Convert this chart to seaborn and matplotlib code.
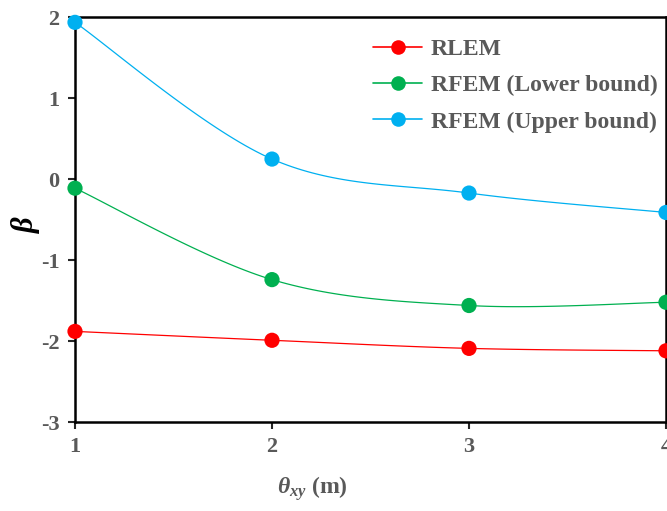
import numpy as np
import pandas as pd
import matplotlib
matplotlib.use("Agg")
import matplotlib.pyplot as plt
from matplotlib.lines import Line2D
import seaborn as sns

'''DATA'''
theta = [1, 2, 3, 4]
rlem = [-1.88, -1.99, -2.09, -2.12]
rfem_lower = [-0.11, -1.24, -1.56, -1.52]
rfem_upper = [1.94, 0.25, -0.17, -0.41]
labels = ["RLEM", "RFEM (Lower bound)", "RFEM (Upper bound)"]
colors = ["#FF0000", "#00B050", "#00B0F0"]

#Excel-style smoothed line (Catmull-Rom bezier)
def smooth(x, y, n=40):
    p = np.column_stack([x, y]).astype(float)
    pts = np.vstack([p[0], p, p[-1]])
    out = []
    for i in range(1, len(pts) - 2):
        p0, p1, p2, p3 = pts[i-1], pts[i], pts[i+1], pts[i+2]
        b1 = p1 + (p2 - p0) / 6
        b2 = p2 - (p3 - p1) / 6
        t = np.linspace(0, 1, n)[:, None]
        seg = (1-t)**3*p1 + 3*(1-t)**2*t*b1 + 3*(1-t)*t**2*b2 + t**3*p2
        out.append(seg if i == 1 else seg[1:])
    out = np.vstack(out)
    return out[:, 0], out[:, 1]

'''STYLE'''
sns.set_style("ticks")
plt.rcParams['font.family'] = ['Liberation Serif', 'DejaVu Serif']
plt.rcParams['font.weight'] = 'bold'
plt.rcParams['axes.unicode_minus'] = False
plt.rcParams['mathtext.fontset'] = 'custom'
plt.rcParams['mathtext.it'] = 'Liberation Serif:italic:bold'
plt.rcParams['mathtext.rm'] = 'Liberation Serif:bold'
grey = "#595959"

fig = plt.figure(figsize=(6.67, 5.11), dpi=100)
ax = fig.add_axes([75/667, 1-422/511, (666-75)/667, (422-17.5)/511])

for ys, lab, c in zip([rlem, rfem_lower, rfem_upper], labels, colors):
    sx, sy = smooth(theta, ys)
    sns.lineplot(x=sx, y=sy, color=c, lw=0.9, sort=False, ax=ax, legend=False)
    sns.scatterplot(x=theta, y=ys, color=c, s=120, edgecolor='none', ax=ax,
                    clip_on=False, zorder=5, legend=False)

ax.set_xlim(1, 4)
ax.set_ylim(-3, 2)
ax.set_xticks([1, 2, 3, 4])
ax.set_yticks([-3, -2, -1, 0, 1, 2])
for s in ax.spines.values():
    s.set_linewidth(1.8)
    s.set_color('black')
ax.tick_params(direction='out', length=5, width=1.5, labelsize=16,
               labelcolor=grey, pad=6)

ax.set_xlabel(r'$\theta_{xy}$ (m)', fontsize=17, color=grey, fontweight='bold')
ax.xaxis.set_label_coords((312-75)/591, -0.13)
ax.set_ylabel(r'$\beta$', fontsize=22, color='black')
ax.yaxis.set_label_coords(-0.055, 0.49)

handles = [Line2D([0], [0], color=c, lw=1.2, marker='o', markersize=10.5,
                  markeredgecolor='none') for c in colors]
leg = fig.legend(handles, labels, loc='upper left',
                 bbox_to_anchor=(361/667, 1-27/511), frameon=False,
                 fontsize=17, handlelength=2.1, handletextpad=0.35,
                 labelspacing=0.62, borderpad=0)
for t in leg.get_texts():
    t.set_color(grey)
    t.set_fontweight('bold')

fig.savefig("out.png", dpi=100)
